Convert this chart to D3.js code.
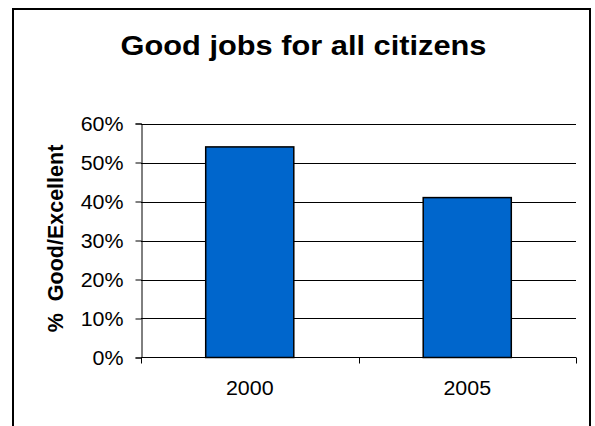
<!DOCTYPE html>
<html>
<head>
<meta charset="utf-8">
<script src="https://cdn.jsdelivr.net/npm/d3@7"></script>
<style>
  html, body { margin: 0; padding: 0; background: #fff; }
  svg { display: block; }
  text { font-family: "Liberation Sans", Arial, sans-serif; }
</style>
</head>
<body>
<svg id="chart" width="595" height="426"></svg>
<script>
const title = "Good jobs for all citizens";
const yAxisLabel = "%  Good/Excellent";
const categories = ["2000", "2005"];
const values = [0.54, 0.41];
const yTicks = [0, 0.1, 0.2, 0.3, 0.4, 0.5, 0.6];

const svg = d3.select("#chart");
const W = 595, H = 426;
const plot = { left: 141, right: 576, top: 123.5, bottom: 357.5 };

svg.append("rect").attr("width", W).attr("height", H).attr("fill", "#fff");

// outer frame
svg.append("rect")
  .attr("x", 13).attr("y", 9)
  .attr("width", 577).attr("height", 430)
  .attr("fill", "none").attr("stroke", "#000").attr("stroke-width", 2);

const x = d3.scaleBand().domain(categories)
  .range([plot.left, plot.right])
  .paddingInner(0.595).paddingOuter(0.2975);
const y = d3.scaleLinear().domain([0, 0.6]).range([plot.bottom, plot.top]);

// title
svg.append("text")
  .attr("transform", "translate(303.5,54.5) scale(1.14,1)")
  .attr("text-anchor", "middle")
  .attr("font-weight", "bold").attr("font-size", 27)
  .attr("fill", "#000")
  .text(title);

// gridlines
svg.append("g").selectAll("line").data(yTicks.filter(d => d > 0)).join("line")
  .attr("x1", plot.left).attr("x2", plot.right)
  .attr("y1", d => Math.round(y(d)) + 0.5).attr("y2", d => Math.round(y(d)) + 0.5)
  .attr("stroke", "#000").attr("stroke-width", 1);

// y axis
const yAxis = d3.axisLeft(y).tickValues(yTicks).tickFormat(d3.format(".0%")).tickSize(6).tickPadding(0);
const gy = svg.append("g").attr("transform", `translate(${plot.left + 0.5},0)`).call(yAxis);
gy.select(".domain").attr("stroke", "#000");
gy.selectAll(".tick line").attr("stroke", "#000");
gy.selectAll(".tick text").remove();
gy.selectAll(".tick").append("text")
  .attr("transform", "translate(-18,7) scale(1.07,1)")
  .attr("text-anchor", "end")
  .attr("font-size", 20).attr("fill", "#000")
  .text(d => d3.format(".0%")(d));
gy.attr("font-family", null).attr("font-size", null);

// bars
svg.append("g").selectAll("rect").data(categories).join("rect")
  .attr("x", d => x(d))
  .attr("width", x.bandwidth())
  .attr("y", (d, i) => y(values[i]))
  .attr("height", (d, i) => y(0) - y(values[i]))
  .attr("fill", "#0066CC")
  .attr("stroke", "#000").attr("stroke-width", 1.5);

// x axis
const gx = svg.append("g");
gx.append("line")
  .attr("x1", plot.left).attr("x2", plot.right)
  .attr("y1", plot.bottom).attr("y2", plot.bottom)
  .attr("stroke", "#000").attr("stroke-width", 1);
const step = x.step();
const bounds = [x(categories[0]) - step * x.paddingOuter()]
  .concat(categories.map(c => x(c) + x.bandwidth() + step * x.paddingInner() / 2));
bounds[bounds.length - 1] = x(categories[categories.length - 1]) + x.bandwidth() + step * x.paddingOuter();
gx.selectAll("line.tk").data(bounds).join("line").attr("class", "tk")
  .attr("x1", d => Math.round(d) + 0.5).attr("x2", d => Math.round(d) + 0.5)
  .attr("y1", plot.bottom).attr("y2", plot.bottom + 6)
  .attr("stroke", "#000");
gx.selectAll("text").data(categories).join("text")
  .attr("transform", d => `translate(${x(d) + x.bandwidth() / 2},395) scale(1.07,1)`)
  .attr("text-anchor", "middle")
  .attr("font-size", 20).attr("fill", "#000")
  .text(d => d);

// y axis label
svg.append("text")
  .attr("transform", "translate(62.5,238.5) rotate(-90)")
  .attr("text-anchor", "middle")
  .attr("font-weight", "bold").attr("font-size", 21.5)
  .attr("fill", "#000")
  .style("white-space", "pre")
  .text(yAxisLabel);
</script>
</body>
</html>
